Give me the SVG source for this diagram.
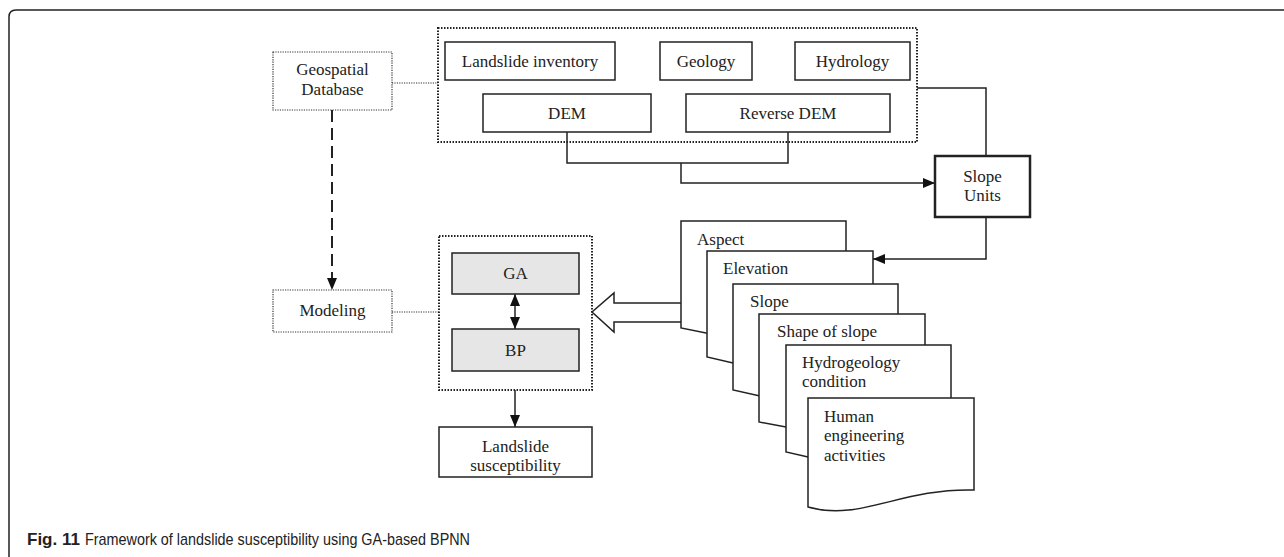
<svg xmlns="http://www.w3.org/2000/svg" width="1284" height="557" viewBox="0 0 1284 557">
<style>
.t{font-family:"Liberation Serif","Times New Roman",serif;font-size:17px;fill:#222}
.box{fill:#fff;stroke:#222;stroke-width:1.5}
.gray{fill:#e6e6e6;stroke:#222;stroke-width:1.5}
.dot{fill:none;stroke:#222;stroke-width:2;stroke-dasharray:1.5 1.5}
.dots{fill:#fff;stroke:#333;stroke-width:1.2;stroke-dasharray:1.2 1.2}
.ln{fill:none;stroke:#222;stroke-width:1.5}
.page{fill:#fff;stroke:#222;stroke-width:1.5;stroke-linejoin:miter}
.cap{font-family:"Liberation Sans",Arial,sans-serif;font-size:17px;fill:#222}
</style>
<defs>
<marker id="ah" viewBox="0 0 12 10" refX="12" refY="5" markerWidth="12" markerHeight="10" markerUnits="userSpaceOnUse" orient="auto-start-reverse">
<path d="M0,0 L12,5 L0,10 Z" fill="#111"/>
</marker>
</defs>
<rect width="1284" height="557" fill="#fff"/>
<!-- frame -->
<path d="M9,557 L9,17 Q9,10 16,10 L1284,10" fill="none" stroke="#222" stroke-width="1.5"/>

<g id="connectors">
<line class="dots" x1="392" y1="83" x2="438" y2="83"/>
<line class="dots" x1="392" y1="312" x2="439" y2="312"/>
<line x1="332" y1="110" x2="332" y2="290" stroke="#222" stroke-width="2" stroke-dasharray="12 6" marker-end="url(#ah)"/>
<path class="ln" d="M567,132 V163 H788 V132"/>
<path class="ln" d="M681,163 V183 H935" marker-end="url(#ah)"/>
<path class="ln" d="M917,88 H986 V156"/>
<path class="ln" d="M986,217 V259 H873" marker-end="url(#ah)"/>
<line class="ln" x1="515" y1="294" x2="515" y2="329" marker-start="url(#ah)" marker-end="url(#ah)"/>
<line class="ln" x1="515" y1="390" x2="515" y2="427" marker-end="url(#ah)"/>
<path d="M681,303 H614 V293 L592,312 L614,332 V322 H681" fill="#fff" stroke="#222" stroke-width="1.5"/>
</g>

<g id="geodb">
<rect class="dots" x="273" y="52" width="119" height="58"/>
<text class="t" x="332.5" y="75" text-anchor="middle">Geospatial</text>
<text class="t" x="332.5" y="95" text-anchor="middle">Database</text>
</g>
<g id="modeling">
<rect class="dots" x="273" y="290" width="119" height="42"/>
<text class="t" x="332.5" y="316" text-anchor="middle">Modeling</text>
</g>

<g id="data-group">
<rect class="dot" x="438" y="28" width="479" height="114"/>
</g>
<g id="landslide-inventory">
<rect class="box" x="445" y="42" width="170" height="38"/>
<text class="t" x="530" y="67" text-anchor="middle">Landslide inventory</text>
</g>
<g id="geology">
<rect class="box" x="660" y="42" width="92" height="38"/>
<text class="t" x="706" y="67" text-anchor="middle">Geology</text>
</g>
<g id="hydrology">
<rect class="box" x="795" y="42" width="115" height="38"/>
<text class="t" x="852.5" y="67" text-anchor="middle">Hydrology</text>
</g>
<g id="dem">
<rect class="box" x="483" y="94" width="168" height="38"/>
<text class="t" x="567" y="119" text-anchor="middle">DEM</text>
</g>
<g id="reverse-dem">
<rect class="box" x="686" y="94" width="204" height="38"/>
<text class="t" x="788" y="119" text-anchor="middle">Reverse DEM</text>
</g>

<g id="slope-units">
<rect x="935" y="156" width="95" height="61" fill="#fff" stroke="#222" stroke-width="2.5"/>
<text class="t" x="982.5" y="182" text-anchor="middle">Slope</text>
<text class="t" x="982.5" y="201" text-anchor="middle">Units</text>
</g>

<g id="model-group">
<rect class="dot" x="439" y="236" width="153" height="154"/>
</g>
<g id="ga">
<rect class="gray" x="452" y="253" width="127" height="41"/>
<text class="t" x="515.5" y="279" text-anchor="middle">GA</text>
</g>
<g id="bp">
<rect class="gray" x="452" y="329" width="127" height="42"/>
<text class="t" x="515.5" y="356" text-anchor="middle">BP</text>
</g>
<g id="susceptibility">
<rect class="box" x="439" y="427" width="153" height="50"/>
<text class="t" x="515.5" y="452" text-anchor="middle">Landslide</text>
<text class="t" x="515.5" y="471" text-anchor="middle">susceptibility</text>
</g>

<g id="factors">
<g id="aspect">
<path class="page" d="M681,328 V221 H846 V340 L706,333 Z"/>
<text class="t" x="697" y="245">Aspect</text>
</g>
<g id="elevation">
<path class="page" d="M707,357 V251 H873 V370 L733,363 Z"/>
<text class="t" x="723" y="274">Elevation</text>
</g>
<g id="slope">
<path class="page" d="M733,390 V284 H898 V400 L760,396 Z"/>
<text class="t" x="750" y="307">Slope</text>
</g>
<g id="shape-of-slope">
<path class="page" d="M759,422 V314 H925 V430 L786,427 Z"/>
<text class="t" x="777" y="337">Shape of slope</text>
</g>
<g id="hydrogeology">
<path class="page" d="M786,452 V345 H951 V460 L808,457 Z"/>
<text class="t" x="802" y="368">Hydrogeology</text>
<text class="t" x="802" y="387">condition</text>
</g>
<g id="human">
<path class="page" d="M808,507 V398 H974 V490 C900,488 860,522 808,507 Z"/>
<text class="t" x="824" y="422">Human</text>
<text class="t" x="824" y="441">engineering</text>
<text class="t" x="824" y="461">activities</text>
</g>
</g>

<text class="cap" x="27" y="545" font-weight="bold">Fig. 11</text>
<text class="cap" x="85" y="545" textLength="385" lengthAdjust="spacingAndGlyphs">Framework of landslide susceptibility using GA-based BPNN</text>
</svg>
